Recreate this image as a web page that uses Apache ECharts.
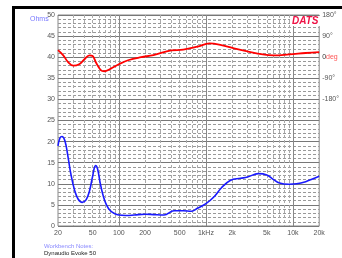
<!DOCTYPE html>
<html>
<head>
<meta charset="utf-8">
<script src="https://cdn.jsdelivr.net/npm/echarts@6/dist/echarts.min.js"></script>
<style>
  html, body { margin: 0; padding: 0; background: #fff; }
  #chart { width: 342px; height: 258px; }
</style>
</head>
<body>
<div id="chart"></div>
<script>
// impedance sweep (Hz / Ohms)
const zFreq = [20, 21, 22.2, 24, 26, 28, 31, 34, 38, 42, 46, 50, 54, 57, 61, 66, 72, 80, 90, 100, 120, 150, 200, 250, 330, 430, 550, 680, 800, 1000, 1250, 1500, 1900, 2500, 3000, 4000, 5000, 6000, 7000, 9000, 11000, 14000, 17000, 20000];
const zOhms = [19.0, 20.8, 21.2, 20.2, 16.5, 12.5, 8.5, 6.4, 5.6, 6.2, 8.3, 11.8, 14.3, 13.5, 10.2, 7.2, 5.0, 3.6, 2.9, 2.6, 2.5, 2.6, 2.8, 2.7, 2.6, 3.6, 3.6, 3.5, 4.2, 5.3, 7.0, 9.0, 10.8, 11.3, 11.6, 12.4, 12.1, 11.0, 10.2, 9.9, 10.0, 10.5, 11.2, 11.8];

// phase (Hz / degrees)
const phFreq = [20, 23, 26, 30, 35, 40, 46, 50, 55, 62, 68, 80, 100, 130, 180, 250, 400, 550, 800, 1100, 1500, 2100, 3000, 4500, 6000, 9000, 14000, 20000];
const phDeg = [30, 8, -20, -36, -30, -10, 8, 5, -25, -55, -60, -50, -30, -12, 0, 9, 29, 32, 45, 59, 52, 38, 25, 12, 8, 12, 18, 22];

const xTickFreqs = [20, 50, 100, 200, 500, 1000, 2000, 5000, 10000, 20000];
const xTickLabels = ['20', '50', '100', '200', '500', '1kHz', '2k', '5k', '10k', '20k'];
const majorFreqs = [100, 1000, 10000];
const minorFreqs = [30, 40, 50, 60, 70, 80, 90, 200, 300, 400, 500, 600, 700, 800, 900,
                    2000, 3000, 4000, 5000, 6000, 7000, 8000, 9000];

const lg = (f) => Math.log10(f);
const xMin = lg(20), xMax = lg(20000);
const font = 'Liberation Sans';

const labelFor = (v) => {
  const i = xTickFreqs.findIndex(f => Math.abs(lg(f) - v) < 1e-6);
  return i >= 0 ? xTickLabels[i] : '';
};

const phaseLabel = (v) => {
  if (v === 0) return '{z|0}{d|deg}';
  if (v >= -180 && v <= 180 && v % 90 === 0) return v + '°';
  return '';
};

const baseX = {
  type: 'value', min: xMin, max: xMax, position: 'bottom',
  axisLine: { show: false }, axisTick: { show: false }, axisLabel: { show: false },
  splitLine: { show: false }
};

const chart = echarts.init(document.getElementById('chart'), null, { renderer: 'canvas' });
chart.setOption({
  animation: false,
  backgroundColor: '#fff',
  grid: { left: 58, top: 15, right: 19, bottom: 32, show: true, borderColor: '#888', borderWidth: 1 },
  xAxis: [
    Object.assign({}, baseX, {
      axisLabel: { show: true, customValues: xTickFreqs.map(lg), formatter: labelFor,
        fontFamily: font, fontSize: 7, color: '#555', margin: 4 },
      axisTick: { show: false, customValues: xTickFreqs.map(lg) }
    }),
    Object.assign({}, baseX, {
      axisTick: { show: false, customValues: majorFreqs.map(lg) },
      splitLine: { show: true, lineStyle: { color: '#888', width: 1 } }
    }),
    Object.assign({}, baseX, {
      axisTick: { show: false, customValues: minorFreqs.map(lg) },
      splitLine: { show: true, lineStyle: { color: '#aaa', width: 1, type: [3, 2] } }
    })
  ],
  yAxis: [
    {
      type: 'value', min: 0, max: 50, interval: 5,
      axisLine: { show: false }, axisTick: { show: false },
      axisLabel: { fontFamily: font, fontSize: 7, color: '#555', margin: 3 },
      splitLine: { show: true, lineStyle: { color: '#777', width: 1 } },
      minorTick: { show: false, splitNumber: 5 },
      minorSplitLine: { show: true, lineStyle: { color: '#999', width: 1, type: [3, 2] } }
    },
    {
      type: 'value', min: -720, max: 180, interval: 90, position: 'right',
      axisLine: { show: false }, axisTick: { show: false },
      splitLine: { show: false },
      axisLabel: {
        formatter: phaseLabel, fontFamily: font, fontSize: 7, color: '#555', margin: 3,
        rich: {
          z: { fontFamily: font, fontSize: 7, color: '#333' },
          d: { fontFamily: font, fontSize: 7, color: '#ff5555' }
        }
      }
    }
  ],
  series: [
    {
      type: 'line', name: 'Phase', xAxisIndex: 0, yAxisIndex: 1,
      data: phFreq.map((f, i) => [lg(f), phDeg[i]]),
      smooth: 0.4, showSymbol: false,
      lineStyle: { color: '#ff0000', width: 1.8 }
    },
    {
      type: 'line', name: 'Impedance', xAxisIndex: 0, yAxisIndex: 0,
      data: zFreq.map((f, i) => [lg(f), zOhms[i]]),
      smooth: 0.4, showSymbol: false,
      lineStyle: { color: '#1a1aff', width: 1.6 }
    }
  ],
  graphic: [
    { type: 'rect', shape: { x: 12, y: 6, width: 330, height: 3 }, style: { fill: '#000' } },
    { type: 'rect', shape: { x: 12, y: 6, width: 3, height: 252 }, style: { fill: '#000' } },
    { type: 'text', left: 30, top: 16,
      style: { text: 'Ohms', font: '7px ' + font, fill: '#7777ff' } },
    { type: 'text', left: 290, top: 16, z: 100,
      style: { text: 'DATS', font: 'italic bold 10px ' + font, fill: '#ee1144',
        backgroundColor: '#fff', padding: [0, 2] } },
    { type: 'text', left: 44, top: 243,
      style: { text: 'Workbench Notes:', font: '6px ' + font, fill: '#8888ff' } },
    { type: 'text', left: 44, top: 250,
      style: { text: 'Dynaudio Evoke 50', font: '6px ' + font, fill: '#222' } }
  ]
});
</script>
</body>
</html>
